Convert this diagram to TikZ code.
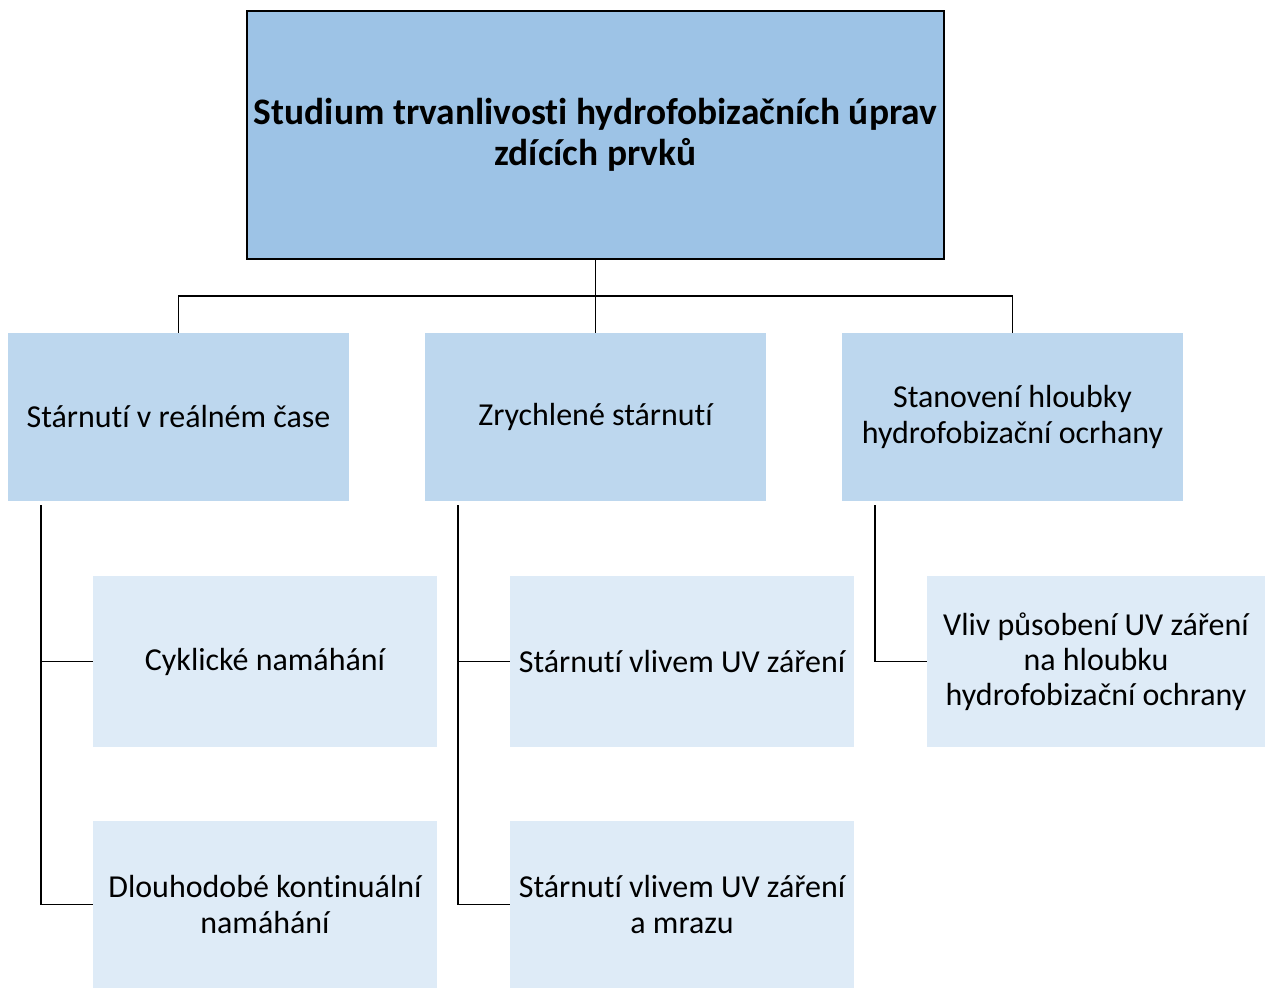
\documentclass[tikz,border=0pt]{standalone}
\usepackage{fontspec}
\setmainfont{Carlito}[Ligatures=NoCommon]
\usetikzlibrary{positioning}

\definecolor{rootblue}{HTML}{9DC3E6}
\definecolor{midblue}{HTML}{BDD7EE}
\definecolor{paleblue}{HTML}{DEEBF7}

\begin{document}
\begin{tikzpicture}[x=0.02cm,y=-0.02cm]
	\tikzset{topbox/.style={draw=black,line width=1.4pt,fill=rootblue,minimum width=13.94cm,minimum height=4.96cm,align=center,font=\fontsize{21.3}{23}\selectfont\bfseries}}
	\tikzset{groupbox/.style={fill=midblue,minimum width=6.82cm,minimum height=3.36cm,align=center,font=\fontsize{18.2}{20}\selectfont}}
	\tikzset{leafbox/.style={fill=paleblue,minimum width=6.88cm,minimum height=3.42cm,align=center,font=\fontsize{18.2}{20}\selectfont}}
	\tikzset{link/.style={draw=black,line width=0.85pt}}
	\useasboundingbox (0,0) rectangle (1266,989);
	% top
	\node[topbox] (root) at (595.5,135) {Studium trvanlivosti hydrofobizačních úprav\\zdících prvků};
	% groups
	\node[groupbox] (real) at (178.5,417) {Stárnutí v reálném čase};
	\node[groupbox] (fast) at (595.5,417) {Zrychlené stárnutí};
	\node[groupbox] (depth) at (1012.5,417) {Stanovení hloubky\\hydrofobizační ocrhany};
	% leaves
	\node[leafbox] (cyc) at (265,661.5) {Cyklické namáhání};
	\node[leafbox,minimum height=3.34cm] (long) at (265,904.5) {Dlouhodobé kontinuální\\namáhání};
	\node[leafbox] (uv) at (682,661.5) {Stárnutí vlivem UV záření};
	\node[leafbox,minimum height=3.34cm] (uvfrost) at (682,904.5) {Stárnutí vlivem UV záření\\a mrazu};
	\node[leafbox,minimum width=6.76cm] (uvdepth) at (1096,661.5) {Vliv působení UV záření\\na hloubku\\hydrofobizační ochrany};
	% connectors
	\coordinate (bus) at (595.5,296);
	\draw[link] (root.south) -- (bus) -- (fast.north);
	\draw[link] (real.north) |- (bus) -| (depth.north);
	\coordinate (r0) at (41,505);
	\coordinate (f0) at (458,505);
	\coordinate (d0) at (875,505);
	\draw[link] (r0) |- (cyc.west);
	\draw[link] (r0) |- (long.west);
	\draw[link] (f0) |- (uv.west);
	\draw[link] (f0) |- (uvfrost.west);
	\draw[link] (d0) |- (uvdepth.west);
\end{tikzpicture}
\end{document}
